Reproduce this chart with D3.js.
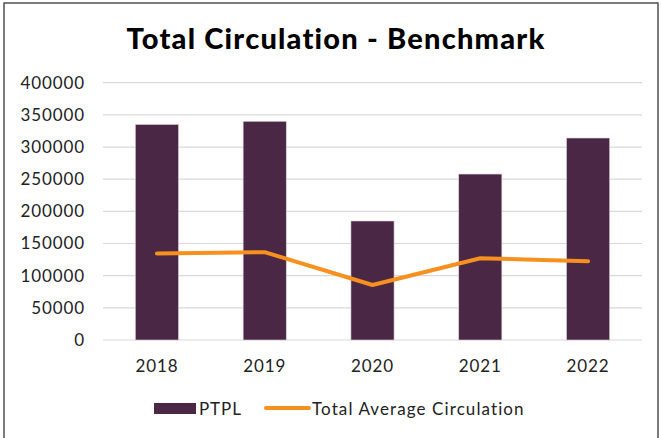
<!DOCTYPE html>
<html>
<head>
<meta charset="utf-8">
<script src="https://cdn.jsdelivr.net/npm/d3@7"></script>
<style>
  body { margin: 0; background: #fff; }
  svg { display: block; }
</style>
</head>
<body>
<svg id="chart" width="661" height="438"></svg>
<script>
const years = ["2018", "2019", "2020", "2021", "2022"];
const ptpl = [335000, 340000, 185000, 258000, 314000];
const totalAverage = [134500, 136500, 85500, 127000, 122500];
const yTicks = [0, 50000, 100000, 150000, 200000, 250000, 300000, 350000, 400000];

const svg = d3.select("#chart");
const font = "'Lato', 'Open Sans', sans-serif";
const barColor = "#4a2745";
const lineColor = "#f7901e";
const labelSize = "17px";
const labelSpacing = "0.9px";

// frame
svg.append("rect")
  .attr("x", 4).attr("y", 3)
  .attr("width", 654).attr("height", 440)
  .attr("fill", "none")
  .attr("stroke", "#444")
  .attr("stroke-width", 1.4);

svg.append("text")
  .attr("x", 336).attr("y", 49)
  .attr("text-anchor", "middle")
  .style("font-family", font)
  .style("font-weight", 900)
  .style("font-size", "29px")
  .style("letter-spacing", "1.2px")
  .attr("fill", "#000")
  .text("Total Circulation - Benchmark");

const margin = { left: 103, right: 642, top: 82.7, bottom: 340 };

const x = d3.scaleBand()
  .domain(years)
  .range([margin.left, margin.right])
  .paddingInner(0.6)
  .paddingOuter(0.3);

const y = d3.scaleLinear()
  .domain([0, 400000])
  .range([margin.bottom, margin.top]);

// gridlines
svg.append("g")
  .selectAll("line")
  .data(yTicks)
  .join("line")
  .attr("x1", margin.left).attr("x2", margin.right)
  .attr("y1", d => y(d)).attr("y2", d => y(d))
  .attr("stroke", "#d9d9d9")
  .attr("stroke-width", 1.2);

// y axis labels
const yAxis = svg.append("g")
  .attr("transform", `translate(${margin.left - 18},0)`)
  .call(d3.axisLeft(y).tickValues(yTicks).tickSize(0).tickPadding(0).tickFormat(d3.format("d")));
yAxis.select(".domain").remove();
yAxis.selectAll("text")
  .style("font-family", font)
  .style("font-size", labelSize)
  .style("letter-spacing", labelSpacing)
  .attr("fill", "#222");

// bars
svg.append("g")
  .selectAll("rect")
  .data(years)
  .join("rect")
  .attr("x", d => x(d))
  .attr("y", (d, i) => y(ptpl[i]))
  .attr("width", x.bandwidth())
  .attr("height", (d, i) => y(0) - y(ptpl[i]))
  .attr("fill", barColor)
  .attr("stroke", "#d8d0d8")
  .attr("stroke-width", 0.6);

// line
const line = d3.line()
  .x((d, i) => x(years[i]) + x.bandwidth() / 2)
  .y(d => y(d));
svg.append("path")
  .datum(totalAverage)
  .attr("d", line)
  .attr("fill", "none")
  .attr("stroke", lineColor)
  .attr("stroke-width", 4)
  .attr("stroke-linecap", "round")
  .attr("stroke-linejoin", "round");

// x axis labels
const xAxis = svg.append("g")
  .attr("transform", `translate(0,${margin.bottom})`)
  .call(d3.axisBottom(x).tickSize(0).tickPadding(20));
xAxis.select(".domain").remove();
xAxis.selectAll("text")
  .style("font-family", font)
  .style("font-size", labelSize)
  .style("letter-spacing", labelSpacing)
  .attr("fill", "#222");

// legend
const legend = svg.append("g");
legend.append("rect")
  .attr("x", 154).attr("y", 403)
  .attr("width", 42).attr("height", 11)
  .attr("fill", barColor);
legend.append("text")
  .attr("x", 199).attr("y", 415)
  .style("font-family", font)
  .style("font-size", labelSize)
  .style("letter-spacing", labelSpacing)
  .attr("fill", "#222")
  .text("PTPL");
legend.append("line")
  .attr("x1", 266).attr("x2", 309)
  .attr("y1", 408).attr("y2", 408)
  .attr("stroke", lineColor)
  .attr("stroke-width", 4)
  .attr("stroke-linecap", "round");
legend.append("text")
  .attr("x", 312).attr("y", 415)
  .style("font-family", font)
  .style("font-size", labelSize)
  .style("letter-spacing", "1.1px")
  .attr("fill", "#222")
  .text("Total Average Circulation");
</script>
</body>
</html>
